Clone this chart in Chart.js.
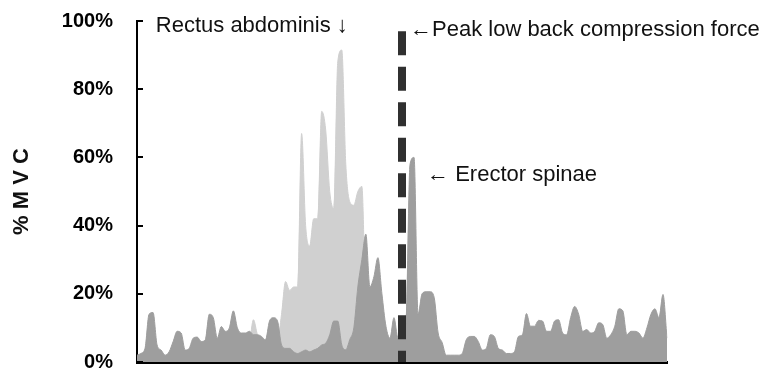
<!DOCTYPE html>
<html>
<head>
<meta charset="UTF-8">
<title>%MVC</title>
<script src="https://cdn.jsdelivr.net/npm/chart.js"></script>
<style>
  body { margin: 0; background: #fff; }
  #wrap { width: 777px; height: 372px; }
</style>
</head>
<body>
<div id="wrap"><canvas id="emg"></canvas></div>
<script>
// %MVC, roughly one sample every 4 px
const erector = [2, 2.5, 4, 14, 14.5, 5, 3.5, 2, 3, 6,
  9, 8.5, 3.5, 4, 7, 7.3, 6, 6.5, 14, 13,
  7, 10.4, 9, 10, 15, 10, 8.5, 8.5, 9, 8,
  8, 7.5, 6.5, 12, 13, 12, 5, 4, 4, 3,
  2.5, 3, 3.5, 3, 3.5, 4, 5, 5.5, 8, 12,
  12, 5, 3.6, 6.6, 10, 22, 30, 37.5, 22, 25,
  30.6, 20, 10.5, 7, 13, 7, 8, 12, 58, 60,
  14, 20, 20.6, 20.6, 19, 8.5, 5.7, 2, 2, 2,
  2, 2.5, 6.5, 7.5, 7.5, 6, 3.5, 4, 8, 7.5,
  4, 3.5, 2.5, 2.5, 3, 7.5, 8, 14.2, 10.5, 10.5,
  12.2, 12, 9, 9, 12, 12.4, 8.5, 8, 13, 16.3,
  14, 9, 9.5, 8.5, 9, 11.5, 11, 7, 8, 10.5,
  15.6, 15, 8, 9, 9, 8.5, 7, 10, 14, 15.6,
  13, 19.8, 7];

const rectus = [1, 1, 1.5, 2, 2, 2, 1.5, 1, 1, 1.5,
  2, 2, 2, 2, 2, 2, 2.5, 2.5, 3, 3,
  3, 3, 3, 4, 4, 4, 4, 5, 6, 12.4,
  8, 6, 5, 5, 5, 6, 14, 23.6, 21, 22,
  22, 67, 40, 34, 42, 42, 73.5, 68, 50, 45,
  88, 91.5, 58, 47, 46, 50, 51.5, 15, 8, 6,
  5, 5, 4, 4, 3, 3, 3, 3, 2.5, 2.5,
  2, 2, 2, 2, 2, 1.5, 1.5, 1, 1, 1,
  1, 1, 1, 1, 1, 1, 1, 1, 1, 1,
  1, 1, 1, 1, 1, 1.5, 1.5, 1.5, 1.5, 1.5,
  1.5, 1.5, 1.5, 1.5, 1.5, 1.5, 1.5, 1.5, 1.5, 1.5,
  1.5, 1.5, 1.5, 1.5, 1.5, 1.5, 1.5, 1.5, 1.5, 1.5,
  1.5, 1.5, 1.5, 1.5, 1.5, 1.5, 1.5, 1.5, 1.5, 1.5,
  1.5, 1.5, 1.5];

const frames = erector.map((v, i) => i);
const yTicks = [0, 20, 40, 60, 80, 100];

const peakFrame = 66;      // peak low back compression force
const peakLineTop = 97;
const rectusPeakFrame = 51;
const erectorPeakFrame = 69;

const txtRectus = 'Rectus abdominis \u2193';
const txtPeak = '\u2190Peak low back compression force';
const txtErector = '\u2190 Erector spinae';

const FONT = '"Liberation Sans", Arial, sans-serif';

// small ticks pointing into the plot + the dashed marker + the notes
const extras = {
  id: 'extras',
  afterDatasetsDraw(chart) {
    const ctx = chart.ctx, xs = chart.scales.x, ys = chart.scales.y, area = chart.chartArea;
    const px = xs.getPixelForValue(peakFrame);
    ctx.save();
    ctx.strokeStyle = '#303030';
    ctx.lineWidth = 8;
    ctx.setLineDash([24, 11.5]);
    ctx.beginPath();
    ctx.moveTo(px, ys.getPixelForValue(peakLineTop));
    ctx.lineTo(px, area.bottom);
    ctx.stroke();
    ctx.restore();
  },
  afterDraw(chart) {
    const ctx = chart.ctx, xs = chart.scales.x, ys = chart.scales.y, area = chart.chartArea;
    ctx.save();
    ctx.strokeStyle = '#000';
    ctx.lineWidth = 2;
    yTicks.forEach(v => {
      const py = Math.round(ys.getPixelForValue(v));
      ctx.beginPath();
      ctx.moveTo(area.left, py);
      ctx.lineTo(area.left + 6, py);
      ctx.stroke();
    });

    ctx.fillStyle = '#111';
    ctx.font = '22px ' + FONT;
    ctx.textBaseline = 'alphabetic';
    ctx.textAlign = 'right';
    ctx.fillText(txtRectus, xs.getPixelForValue(rectusPeakFrame) + 6, ys.getPixelForValue(100) + 11);
    ctx.textAlign = 'left';
    ctx.fillText(txtPeak, xs.getPixelForValue(peakFrame) + 8, ys.getPixelForValue(peakLineTop) + 5);
    ctx.fillText(txtErector, xs.getPixelForValue(erectorPeakFrame) + 13, ys.getPixelForValue(60) + 24);
    ctx.restore();
  }
};

new Chart(document.getElementById('emg'), {
  type: 'line',
  data: {
    labels: frames,
    datasets: [
      {
        label: 'Erector spinae',
        data: erector,
        fill: 'origin',
        backgroundColor: '#9e9e9e',
        borderColor: '#9e9e9e',
        borderWidth: 1,
        pointRadius: 0,
        cubicInterpolationMode: 'monotone'
      },
      {
        label: 'Rectus abdominis',
        data: rectus,
        fill: 'origin',
        backgroundColor: '#d0d0d0',
        borderColor: '#d0d0d0',
        borderWidth: 1,
        pointRadius: 0,
        cubicInterpolationMode: 'monotone'
      }
    ]
  },
  options: {
    responsive: true,
    maintainAspectRatio: false,
    devicePixelRatio: 1,
    animation: false,
    layout: { padding: { top: 21, right: 110, bottom: 10, left: 0 } },
    plugins: {
      legend: { display: false },
      tooltip: { enabled: false }
    },
    scales: {
      x: {
        grid: { display: false },
        ticks: { display: false },
        border: { display: true, color: '#000', width: 3 },
        afterFit(scale) { scale.height = 0; }
      },
      y: {
        min: 0,
        max: 100,
        afterBuildTicks(scale) { scale.ticks = yTicks.map(v => ({ value: v })); },
        afterFit(scale) {
          scale.width = 137;
          scale.paddingTop = 0;
          scale.paddingBottom = 0;
        },
        grid: { display: false, drawTicks: false },
        border: { display: true, color: '#000', width: 2 },
        ticks: {
          padding: 24,
          color: '#000',
          font: { family: FONT, size: 20, weight: 'bold' },
          callback: v => v + '%'
        },
        title: {
          display: true,
          text: '% M V C',
          color: '#111',
          font: { family: FONT, size: 22, weight: 'bold' },
          padding: { top: 9, bottom: 0 }
        }
      }
    }
  },
  plugins: [extras]
});
</script>
</body>
</html>
